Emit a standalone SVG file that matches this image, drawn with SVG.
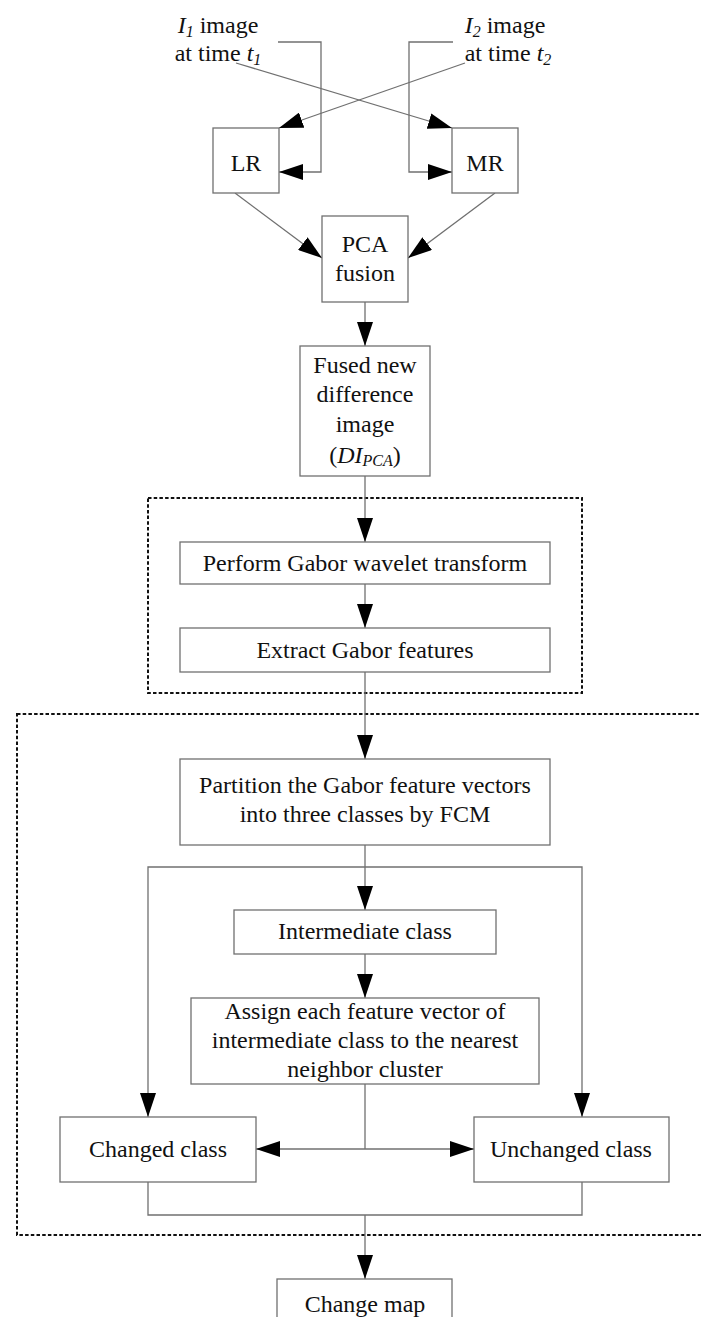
<svg xmlns="http://www.w3.org/2000/svg" width="701" height="1317" viewBox="0 0 701 1317">
  <style>
    text { font-family: "Liberation Serif", "Times New Roman", serif; font-size: 24px; fill: #111; text-anchor: middle; }
    .box { fill: #fff; stroke: #707070; stroke-width: 1.3; }
    .wire { fill: none; stroke: #707070; stroke-width: 1.3; }
    .arrow { fill: none; stroke: #707070; stroke-width: 1.3; marker-end: url(#head); }
    .group { fill: none; stroke: #111; stroke-width: 2; stroke-dasharray: 3.5 2.2; }
    .it { font-style: italic; }
  </style>
  <defs>
    <marker id="head" markerUnits="userSpaceOnUse" markerWidth="24" markerHeight="16" refX="24" refY="8" orient="auto">
      <path d="M0,0 L24,8 L0,16 Z" fill="#000"/>
    </marker>
  </defs>

  <rect width="701" height="1317" fill="#fff"/>

  <!-- dashed grouping frames -->
  <g id="gabor-stage">
    <rect class="group" x="148" y="498" width="434" height="195"/>
  </g>
  <g id="clustering-stage">
    <rect class="group" x="17" y="714" width="720" height="521"/>
  </g>

  <!-- connectors -->
  <g id="connectors">
    <!-- inputs to LR / MR -->
    <path class="arrow" d="M278,42 H321 V172 H279"/>
    <path class="arrow" d="M453,42 H409 V172 H452"/>
    <path class="arrow" d="M236,63 L452,128"/>
    <path class="arrow" d="M465,63 L279,128"/>
    <!-- LR / MR to fusion -->
    <path class="arrow" d="M235,193 L322,258"/>
    <path class="arrow" d="M495,193 L408,258"/>
    <!-- main chain -->
    <path class="arrow" d="M365,302 V346"/>
    <path class="arrow" d="M365,476 V542"/>
    <path class="arrow" d="M365,584 V628"/>
    <path class="arrow" d="M365,672 V759"/>
    <path class="arrow" d="M365,845 V910"/>
    <path class="arrow" d="M365,954 V998"/>
    <!-- branches to changed / unchanged -->
    <path class="arrow" d="M365,867 H148 V1117"/>
    <path class="arrow" d="M365,867 H582 V1117"/>
    <path class="wire" d="M365,1084 V1149"/>
    <path class="arrow" d="M365,1149 H256"/>
    <path class="arrow" d="M365,1149 H474"/>
    <!-- merge to change map -->
    <path class="wire" d="M148,1182 V1215 H582 V1182"/>
    <path class="arrow" d="M365,1215 V1279"/>
  </g>

  <!-- input labels -->
  <g id="input-i1">
    <text x="218" y="33"><tspan class="it">I</tspan><tspan class="it" font-size="16" dy="4">1</tspan><tspan dy="-4"> image</tspan></text>
    <text x="218" y="61">at time <tspan class="it">t</tspan><tspan class="it" font-size="16" dy="4">1</tspan></text>
  </g>
  <g id="input-i2">
    <text x="505" y="33"><tspan class="it">I</tspan><tspan class="it" font-size="16" dy="4">2</tspan><tspan dy="-4"> image</tspan></text>
    <text x="508" y="61">at time <tspan class="it">t</tspan><tspan class="it" font-size="16" dy="4">2</tspan></text>
  </g>

  <g id="node-lr">
    <rect class="box" x="213" y="128" width="66" height="65"/>
    <text x="246" y="171">LR</text>
  </g>
  <g id="node-mr">
    <rect class="box" x="452" y="128" width="66" height="65"/>
    <text x="485" y="171">MR</text>
  </g>

  <g id="node-pca">
    <rect class="box" x="322" y="216" width="86" height="86"/>
    <text x="365" y="252">PCA</text>
    <text x="365" y="281">fusion</text>
  </g>

  <g id="node-fused">
    <rect class="box" x="300" y="346" width="130" height="130"/>
    <text x="365" y="373">Fused new</text>
    <text x="365" y="402">difference</text>
    <text x="365" y="432">image</text>
    <text x="365" y="463">(<tspan class="it">DI</tspan><tspan class="it" font-size="16" dy="3">PCA</tspan><tspan dy="-3">)</tspan></text>
  </g>

  <g id="node-gabor-transform">
    <rect class="box" x="180" y="542" width="370" height="42"/>
    <text x="365" y="571">Perform Gabor wavelet transform</text>
  </g>

  <g id="node-gabor-features">
    <rect class="box" x="180" y="628" width="370" height="44"/>
    <text x="365" y="658">Extract Gabor features</text>
  </g>

  <g id="node-partition">
    <rect class="box" x="180" y="759" width="370" height="86"/>
    <text x="365" y="793">Partition the Gabor feature vectors</text>
    <text x="365" y="822">into three classes by FCM</text>
  </g>

  <g id="node-intermediate">
    <rect class="box" x="234" y="910" width="262" height="44"/>
    <text x="365" y="939">Intermediate class</text>
  </g>

  <g id="node-assign">
    <rect class="box" x="191" y="998" width="348" height="86"/>
    <text x="365" y="1019">Assign each feature vector of</text>
    <text x="365" y="1048">intermediate class to the nearest</text>
    <text x="365" y="1077">neighbor cluster</text>
  </g>

  <g id="node-changed">
    <rect class="box" x="60" y="1117" width="196" height="65"/>
    <text x="158" y="1157">Changed class</text>
  </g>
  <g id="node-unchanged">
    <rect class="box" x="474" y="1117" width="195" height="65"/>
    <text x="571" y="1157">Unchanged class</text>
  </g>

  <g id="node-change-map">
    <rect class="box" x="277" y="1279" width="175" height="60"/>
    <text x="365" y="1312">Change map</text>
  </g>
</svg>
